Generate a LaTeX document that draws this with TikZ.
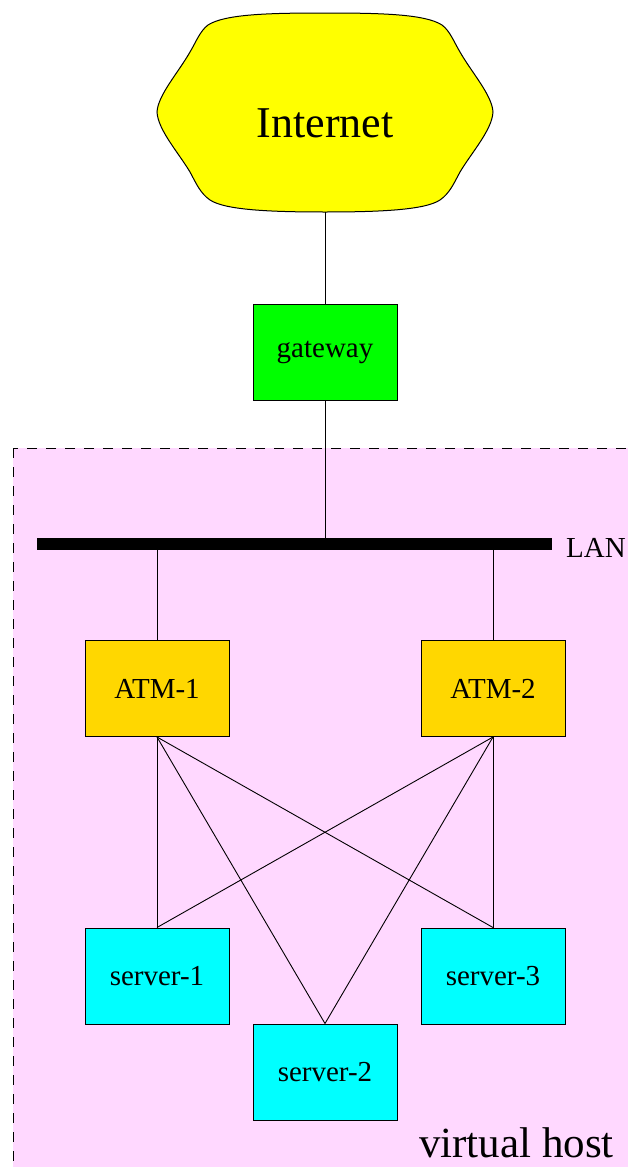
\documentclass[tikz,border=0pt]{standalone}
\usepackage{fontspec}
\setmainfont{Liberation Serif}
\definecolor{vhpink}{RGB}{255,216,255}
\definecolor{gwgreen}{RGB}{0,255,0}
\definecolor{atmgold}{RGB}{255,215,0}
\definecolor{srvcyan}{RGB}{0,255,255}
\definecolor{netyellow}{RGB}{255,255,0}
\begin{document}
\begin{tikzpicture}[x=1pt,y=-1pt,
  box/.style={draw=black,line width=1pt,minimum width=144pt,minimum height=96pt,inner sep=0pt,font=\fontsize{29}{32}\selectfont},
  gwbox/.style={box,fill=gwgreen},
  atmbox/.style={box,fill=atmgold},
  srvbox/.style={box,fill=srvcyan},
  link/.style={draw=black,line width=0.9pt}]
\useasboundingbox (0,0) rectangle (628,1167);
% virtual host area
\fill[white] (0,0) rectangle (628,1167);
\draw[fill=vhpink,line width=1pt,dash pattern=on 10pt off 9pt] (13,448) rectangle (660,1200);
% Internet cloud
\draw[fill=netyellow,line width=1pt]
  (325,13) .. controls (270,13) and (225,14) .. (208,25)
  .. controls (200,31) and (196,42) .. (190,52)
  .. controls (178,73) and (158,95) .. (157,112)
  .. controls (158,130) and (178,152) .. (190,172)
  .. controls (196,183) and (200,193) .. (210,200)
  .. controls (225,210) and (270,212) .. (325,212)
  .. controls (380,212) and (425,210) .. (440,200)
  .. controls (450,193) and (454,183) .. (460,172)
  .. controls (472,152) and (492,130) .. (493,112)
  .. controls (492,95) and (472,73) .. (460,52)
  .. controls (454,42) and (450,31) .. (442,25)
  .. controls (425,14) and (380,13) .. (325,13) -- cycle;
\node[anchor=base,inner sep=0pt,font=\fontsize{44}{48}\selectfont] (inet) at (325,137) {Internet};
\coordinate (inetb) at (325,212);
% nodes
\node[gwbox] (gw) at (325,352) {gateway};
\node[fill=black,inner sep=0pt,minimum width=515pt,minimum height=12pt] (lan) at (294.5,544) {};
\node[anchor=base west,inner sep=0pt,font=\fontsize{29}{32}\selectfont] (lanlbl) at (566,557) {LAN};
\node[atmbox] (atm1) at (157,688.5) {ATM-1};
\node[atmbox] (atm2) at (493,688.5) {ATM-2};
\node[srvbox] (s1) at (157,976) {server-1};
\node[srvbox] (s3) at (493,976) {server-3};
\node[srvbox] (s2) at (325,1072) {server-2};
\node[anchor=base west,inner sep=0pt,font=\fontsize{43}{48}\selectfont] (vh) at (419,1157) {virtual host};
% connectors
\draw[link] (inetb) -- (gw.north);
\draw[link] (gw.south) -- (gw.south |- lan.north);
\draw[link] (atm1.north) -- (atm1.north |- lan.south);
\draw[link] (atm2.north) -- (atm2.north |- lan.south);
\draw[link] (atm1.south) -- (s1.north);
\draw[link] (atm1.south) -- (s2.north);
\draw[link] (atm1.south) -- (s3.north);
\draw[link] (atm2.south) -- (s1.north);
\draw[link] (atm2.south) -- (s2.north);
\draw[link] (atm2.south) -- (s3.north);
\end{tikzpicture}
\end{document}
